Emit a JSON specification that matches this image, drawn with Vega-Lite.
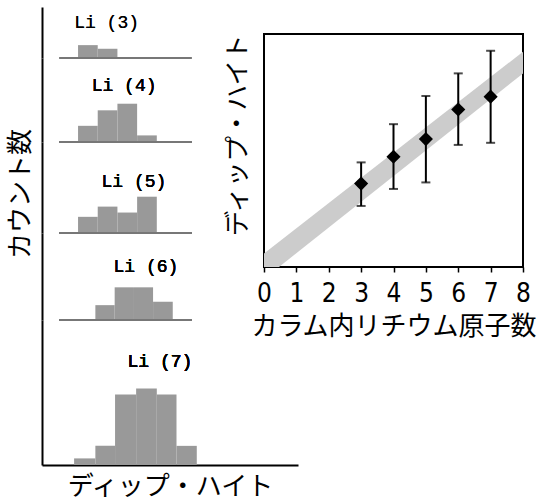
{
  "$schema": "https://vega.github.io/schema/vega-lite/v6.json",
  "padding": {"left": 7, "top": 7, "right": 0, "bottom": 0},
  "background": "white",
  "config": {
    "view": {"stroke": null},
    "font": "Noto Sans CJK JP",
    "axis": {"grid": false, "titleFontWeight": "normal", "titleColor": "black", "labelColor": "black", "titleFont": "Noto Sans CJK JP", "labelFont": "Noto Sans CJK JP"}
  },
  "datasets": {
    "hist": [
      {"li": 3, "start": 0, "end": 1, "count": 3.9},
      {"li": 3, "start": 1, "end": 2, "count": 2.8},
      {"li": 4, "start": 0, "end": 1, "count": 4.9},
      {"li": 4, "start": 1, "end": 2, "count": 9.6},
      {"li": 4, "start": 2, "end": 3, "count": 11.6},
      {"li": 4, "start": 3, "end": 4, "count": 2.0},
      {"li": 5, "start": 0, "end": 1, "count": 4.9},
      {"li": 5, "start": 1, "end": 2, "count": 8.0},
      {"li": 5, "start": 2, "end": 3, "count": 6.2},
      {"li": 5, "start": 3, "end": 4, "count": 11.0},
      {"li": 6, "start": 0.88, "end": 1.86, "count": 4.5},
      {"li": 6, "start": 1.86, "end": 2.84, "count": 9.9},
      {"li": 6, "start": 2.84, "end": 3.81, "count": 9.9},
      {"li": 6, "start": 3.81, "end": 4.81, "count": 5.5},
      {"li": 7, "start": -0.2, "end": 0.88, "count": 2.0},
      {"li": 7, "start": 0.88, "end": 1.88, "count": 5.8},
      {"li": 7, "start": 1.88, "end": 2.95, "count": 21.4},
      {"li": 7, "start": 2.95, "end": 4.0, "count": 23.2},
      {"li": 7, "start": 4.0, "end": 5.0, "count": 21.4},
      {"li": 7, "start": 5.0, "end": 6.03, "count": 5.8}
    ],
    "points": [
      {"n": 3, "h": 3.58, "lo": 2.62, "hi": 4.49},
      {"n": 4, "h": 4.73, "lo": 3.35, "hi": 6.13},
      {"n": 5, "h": 5.49, "lo": 3.63, "hi": 7.34},
      {"n": 6, "h": 6.76, "lo": 5.24, "hi": 8.31},
      {"n": 7, "h": 7.31, "lo": 5.33, "hi": 9.28}
    ],
    "band": [
      {"n": 0, "lo": -0.51, "hi": 0.58},
      {"n": 8, "lo": 8.31, "hi": 9.24}
    ]
  },
  "columns": 2,
  "align": "none",
  "spacing": {"column": -75, "row": 0},
  "concat": [
    {
      "vconcat": [
        {
          "width": 256, "height": 51,
          "data": {"name": "hist"},
          "transform": [{"filter": "datum.li == 3"}],
          "layer": [
            {"mark": {"type": "rect", "color": "#999999"},
             "encoding": {
               "x": {"field": "start", "type": "quantitative", "scale": {"domain": [-1.83, 11.17], "nice": false, "zero": false}, "axis": null},
               "x2": {"field": "end"},
               "y": {"field": "count", "type": "quantitative", "scale": {"domain": [0, 15.45], "nice": false},
                     "axis": {"title": null, "ticks": false, "labels": false, "domainColor": "black", "domainWidth": 2}},
               "y2": {"datum": 0}}},
            {"mark": {"type": "rule", "color": "#777777", "strokeWidth": 2},
             "encoding": {"x": {"datum": -0.95, "type": "quantitative"}, "x2": {"datum": 5.77}, "y": {"datum": 0, "type": "quantitative"}}},
            {"mark": {"type": "text", "font": "Liberation Mono", "fontSize": 18, "fontWeight": "normal", "color": "black", "baseline": "middle"},
             "encoding": {"x": {"datum": 1.45, "type": "quantitative"}, "y": {"datum": 10.7, "type": "quantitative"}, "text": {"value": "Li (3)"}}}
          ]
        },
        {
          "width": 256, "height": 84,
          "data": {"name": "hist"},
          "transform": [{"filter": "datum.li == 4"}],
          "layer": [
            {"mark": {"type": "rect", "color": "#999999"},
             "encoding": {
               "x": {"field": "start", "type": "quantitative", "scale": {"domain": [-1.83, 11.17], "nice": false, "zero": false}, "axis": null},
               "x2": {"field": "end"},
               "y": {"field": "count", "type": "quantitative", "scale": {"domain": [0, 25.45], "nice": false},
                     "axis": {"title": null, "ticks": false, "labels": false, "domainColor": "black", "domainWidth": 2}},
               "y2": {"datum": 0}}},
            {"mark": {"type": "rule", "color": "#777777", "strokeWidth": 2},
             "encoding": {"x": {"datum": -0.95, "type": "quantitative"}, "x2": {"datum": 5.77}, "y": {"datum": 0, "type": "quantitative"}}},
            {"mark": {"type": "text", "font": "Liberation Mono", "fontSize": 18, "fontWeight": "normal", "color": "black", "baseline": "middle"},
             "encoding": {"x": {"datum": 2.34, "type": "quantitative"}, "y": {"datum": 16.9, "type": "quantitative"}, "text": {"value": "Li (4)"}}}
          ]
        },
        {
          "width": 256, "height": 91,
          "data": {"name": "hist"},
          "transform": [{"filter": "datum.li == 5"}],
          "layer": [
            {"mark": {"type": "rect", "color": "#999999"},
             "encoding": {
               "x": {"field": "start", "type": "quantitative", "scale": {"domain": [-1.83, 11.17], "nice": false, "zero": false}, "axis": null},
               "x2": {"field": "end"},
               "y": {"field": "count", "type": "quantitative", "scale": {"domain": [0, 27.58], "nice": false},
                     "axis": {"title": "カウント数", "titleFontSize": 26, "titlePadding": 9, "titleY": 51.5, "ticks": false, "labels": false, "domainColor": "black", "domainWidth": 2}},
               "y2": {"datum": 0}}},
            {"mark": {"type": "rule", "color": "#777777", "strokeWidth": 2},
             "encoding": {"x": {"datum": -0.95, "type": "quantitative"}, "x2": {"datum": 5.77}, "y": {"datum": 0, "type": "quantitative"}}},
            {"mark": {"type": "text", "font": "Liberation Mono", "fontSize": 18, "fontWeight": "normal", "color": "black", "baseline": "middle"},
             "encoding": {"x": {"datum": 2.84, "type": "quantitative"}, "y": {"datum": 15.5, "type": "quantitative"}, "text": {"value": "Li (5)"}}}
          ]
        },
        {
          "width": 256, "height": 87,
          "data": {"name": "hist"},
          "transform": [{"filter": "datum.li == 6"}],
          "layer": [
            {"mark": {"type": "rect", "color": "#999999"},
             "encoding": {
               "x": {"field": "start", "type": "quantitative", "scale": {"domain": [-1.83, 11.17], "nice": false, "zero": false}, "axis": null},
               "x2": {"field": "end"},
               "y": {"field": "count", "type": "quantitative", "scale": {"domain": [0, 26.36], "nice": false},
                     "axis": {"title": null, "ticks": false, "labels": false, "domainColor": "black", "domainWidth": 2}},
               "y2": {"datum": 0}}},
            {"mark": {"type": "rule", "color": "#777777", "strokeWidth": 2},
             "encoding": {"x": {"datum": -0.95, "type": "quantitative"}, "x2": {"datum": 5.77}, "y": {"datum": 0, "type": "quantitative"}}},
            {"mark": {"type": "text", "font": "Liberation Mono", "fontSize": 18, "fontWeight": "normal", "color": "black", "baseline": "middle"},
             "encoding": {"x": {"datum": 3.45, "type": "quantitative"}, "y": {"datum": 16.0, "type": "quantitative"}, "text": {"value": "Li (6)"}}}
          ]
        },
        {
          "width": 256, "height": 145,
          "data": {"name": "hist"},
          "transform": [{"filter": "datum.li == 7"}],
          "layer": [
            {"mark": {"type": "rect", "color": "#999999"},
             "encoding": {
               "x": {"field": "start", "type": "quantitative", "scale": {"domain": [-1.83, 11.17], "nice": false, "zero": false},
                     "axis": {"title": "ディップ・ハイト", "titleFontSize": 26, "titlePadding": 8, "ticks": false, "labels": false, "domainColor": "black", "domainWidth": 2}},
               "x2": {"field": "end"},
               "y": {"field": "count", "type": "quantitative", "scale": {"domain": [0, 43.94], "nice": false},
                     "axis": {"title": null, "ticks": false, "labels": false, "domainColor": "black", "domainWidth": 2}},
               "y2": {"datum": 0}}},
            {"mark": {"type": "text", "font": "Liberation Mono", "fontSize": 18, "fontWeight": "normal", "color": "black", "baseline": "middle"},
             "encoding": {"x": {"datum": 4.16, "type": "quantitative"}, "y": {"datum": 31.1, "type": "quantitative"}, "text": {"value": "Li (7)"}}}
          ]
        }
      ],
      "spacing": 0,
      "bounds": "flush",
      "resolve": {"scale": {"y": "independent"}}
    },
    {
      "vconcat": [
        {
          "width": 259, "height": 27,
          "data": {"values": []},
          "mark": "point",
          "encoding": {}
        },
        {
          "width": 259, "height": 233,
          "view": {"stroke": "black", "strokeWidth": 2},
          "encoding": {
            "x": {"field": "n", "type": "quantitative", "scale": {"domain": [0, 8], "nice": false},
                  "axis": {"title": "カラム内リチウム原子数", "titleFontSize": 26, "labelFontSize": 26, "labelFont": "Liberation Sans Narrow, DejaVu Sans Condensed, Noto Sans CJK JP", "labelOverlap": false, "labelFlush": false, "labelBound": false, "tickCount": 9, "values": [0,1,2,3,4,5,6,7,8], "tickColor": "black", "tickWidth": 1.5, "tickSize": 5, "domain": false, "labelPadding": 8, "titlePadding": 7}}
          },
          "layer": [
            {
              "data": {"name": "band"},
              "mark": {"type": "area", "color": "#cccccc", "clip": true},
              "encoding": {
                "y": {"field": "lo", "type": "quantitative", "scale": {"domain": [0, 10], "nice": false},
                      "axis": {"title": "ディップ・ハイト", "titleFontSize": 25.5, "titleAnchor": "end", "titlePadding": 14, "ticks": false, "labels": false, "domain": false}},
                "y2": {"field": "hi"}
              }
            },
            {
              "data": {"name": "points"},
              "mark": {"type": "rule", "color": "black", "strokeWidth": 2},
              "encoding": {"y": {"field": "lo", "type": "quantitative"}, "y2": {"field": "hi"}}
            },
            {
              "data": {"name": "points"},
              "mark": {"type": "tick", "color": "black", "orient": "horizontal", "size": 9, "thickness": 2},
              "encoding": {"y": {"field": "lo", "type": "quantitative"}}
            },
            {
              "data": {"name": "points"},
              "mark": {"type": "tick", "color": "black", "orient": "horizontal", "size": 9, "thickness": 2},
              "encoding": {"y": {"field": "hi", "type": "quantitative"}}
            },
            {
              "data": {"name": "points"},
              "mark": {"type": "point", "shape": "diamond", "filled": true, "color": "black", "size": 200, "opacity": 1},
              "encoding": {"y": {"field": "h", "type": "quantitative"}}
            }
          ]
        }
      ],
      "spacing": 0,
      "bounds": "flush"
    }
  ]
}
